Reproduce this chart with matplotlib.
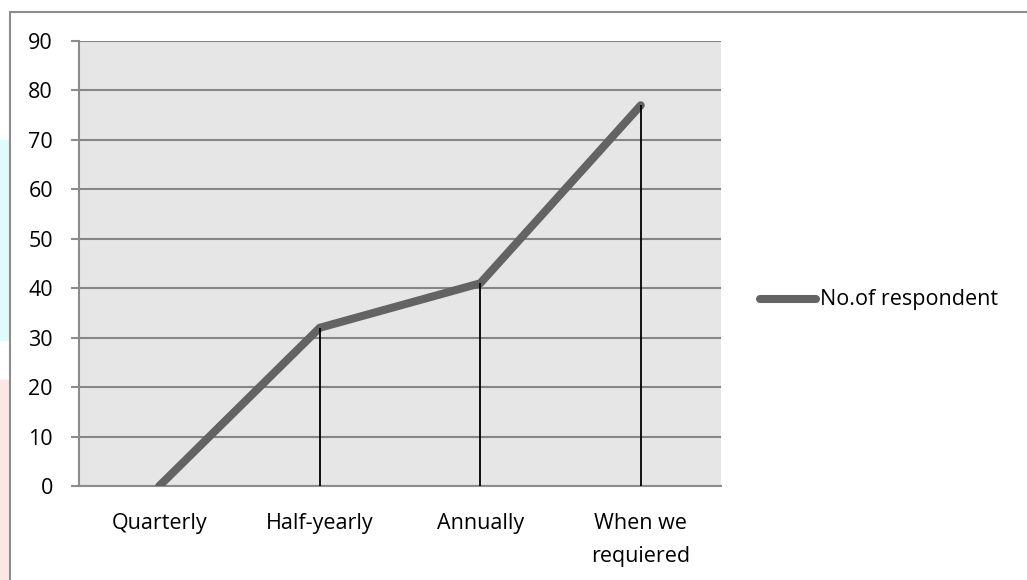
# Line chart: No.of respondent by frequency
import matplotlib.pyplot as plt
from matplotlib.patches import Rectangle
from matplotlib.lines import Line2D

categories = ['Quarterly', 'Half-yearly', 'Annually', 'When we\nrequiered']
respondents = [0, 32, 41, 77]
y_ticks = [0, 10, 20, 30, 40, 50, 60, 70, 80, 90]

plt.rcParams['font.family'] = ['Open Sans', 'DejaVu Sans']

W, H = 1027, 580
fig = plt.figure(figsize=(W / 100, H / 100), dpi=100)

# faint page background bits on the left edge
fig.patches.append(Rectangle((0, 1 - 340 / H), 8 / W, 200 / H, transform=fig.transFigure,
                             color='#e0fbfc', zorder=0))
fig.patches.append(Rectangle((0, 0), 8 / W, 200 / H, transform=fig.transFigure,
                             color='#fde6e6', zorder=0))
# chart border (cut at right and bottom)
fig.patches.append(Rectangle((10 / W, -0.1), 1.2, 1 - 12 / H + 0.1, transform=fig.transFigure,
                             fill=False, edgecolor='#8c8c8c', linewidth=1.5, zorder=1))

ax = fig.add_axes([79 / W, 1 - 486 / H, (721 - 79) / W, (486 - 41) / H])
ax.set_facecolor('#e6e6e6')

x = list(range(len(categories)))
ax.plot(x, respondents, color='#636363', linewidth=5.8, solid_capstyle='round',
        solid_joinstyle='round', zorder=3)
ax.vlines(x, 0, respondents, color='black', linewidth=1.3, zorder=4)

ax.set_xlim(-0.5, len(categories) - 0.5)
ax.set_ylim(0, 90)
ax.set_yticks(y_ticks)
ax.set_xticks(x)
ax.set_xticklabels(categories, fontsize=15.5, linespacing=1.72)
ax.tick_params(axis='y', labelsize=15.5, length=5.8, width=1.5, color='#8c8c8c', pad=13)
ax.tick_params(axis='x', length=0, pad=19.5)
for lab in ax.get_xticklabels():
    lab.set_verticalalignment('top')

ax.grid(axis='y', color='#868686', linewidth=1.5, zorder=1)
ax.set_axisbelow(True)
for side in ['top', 'right']:
    ax.spines[side].set_visible(False)
for side in ['left', 'bottom']:
    ax.spines[side].set_color('#8c8c8c')
    ax.spines[side].set_linewidth(1.5)

# legend
fig.add_artist(Line2D([760 / W, 816 / W], [1 - 299 / H] * 2, transform=fig.transFigure,
                      color='#636363', linewidth=5.8, solid_capstyle='round'))
fig.text(820 / W, 1 - 299 / H, 'No.of respondent', fontsize=15.5, va='center', ha='left')

plt.savefig('out.png', dpi=100)
